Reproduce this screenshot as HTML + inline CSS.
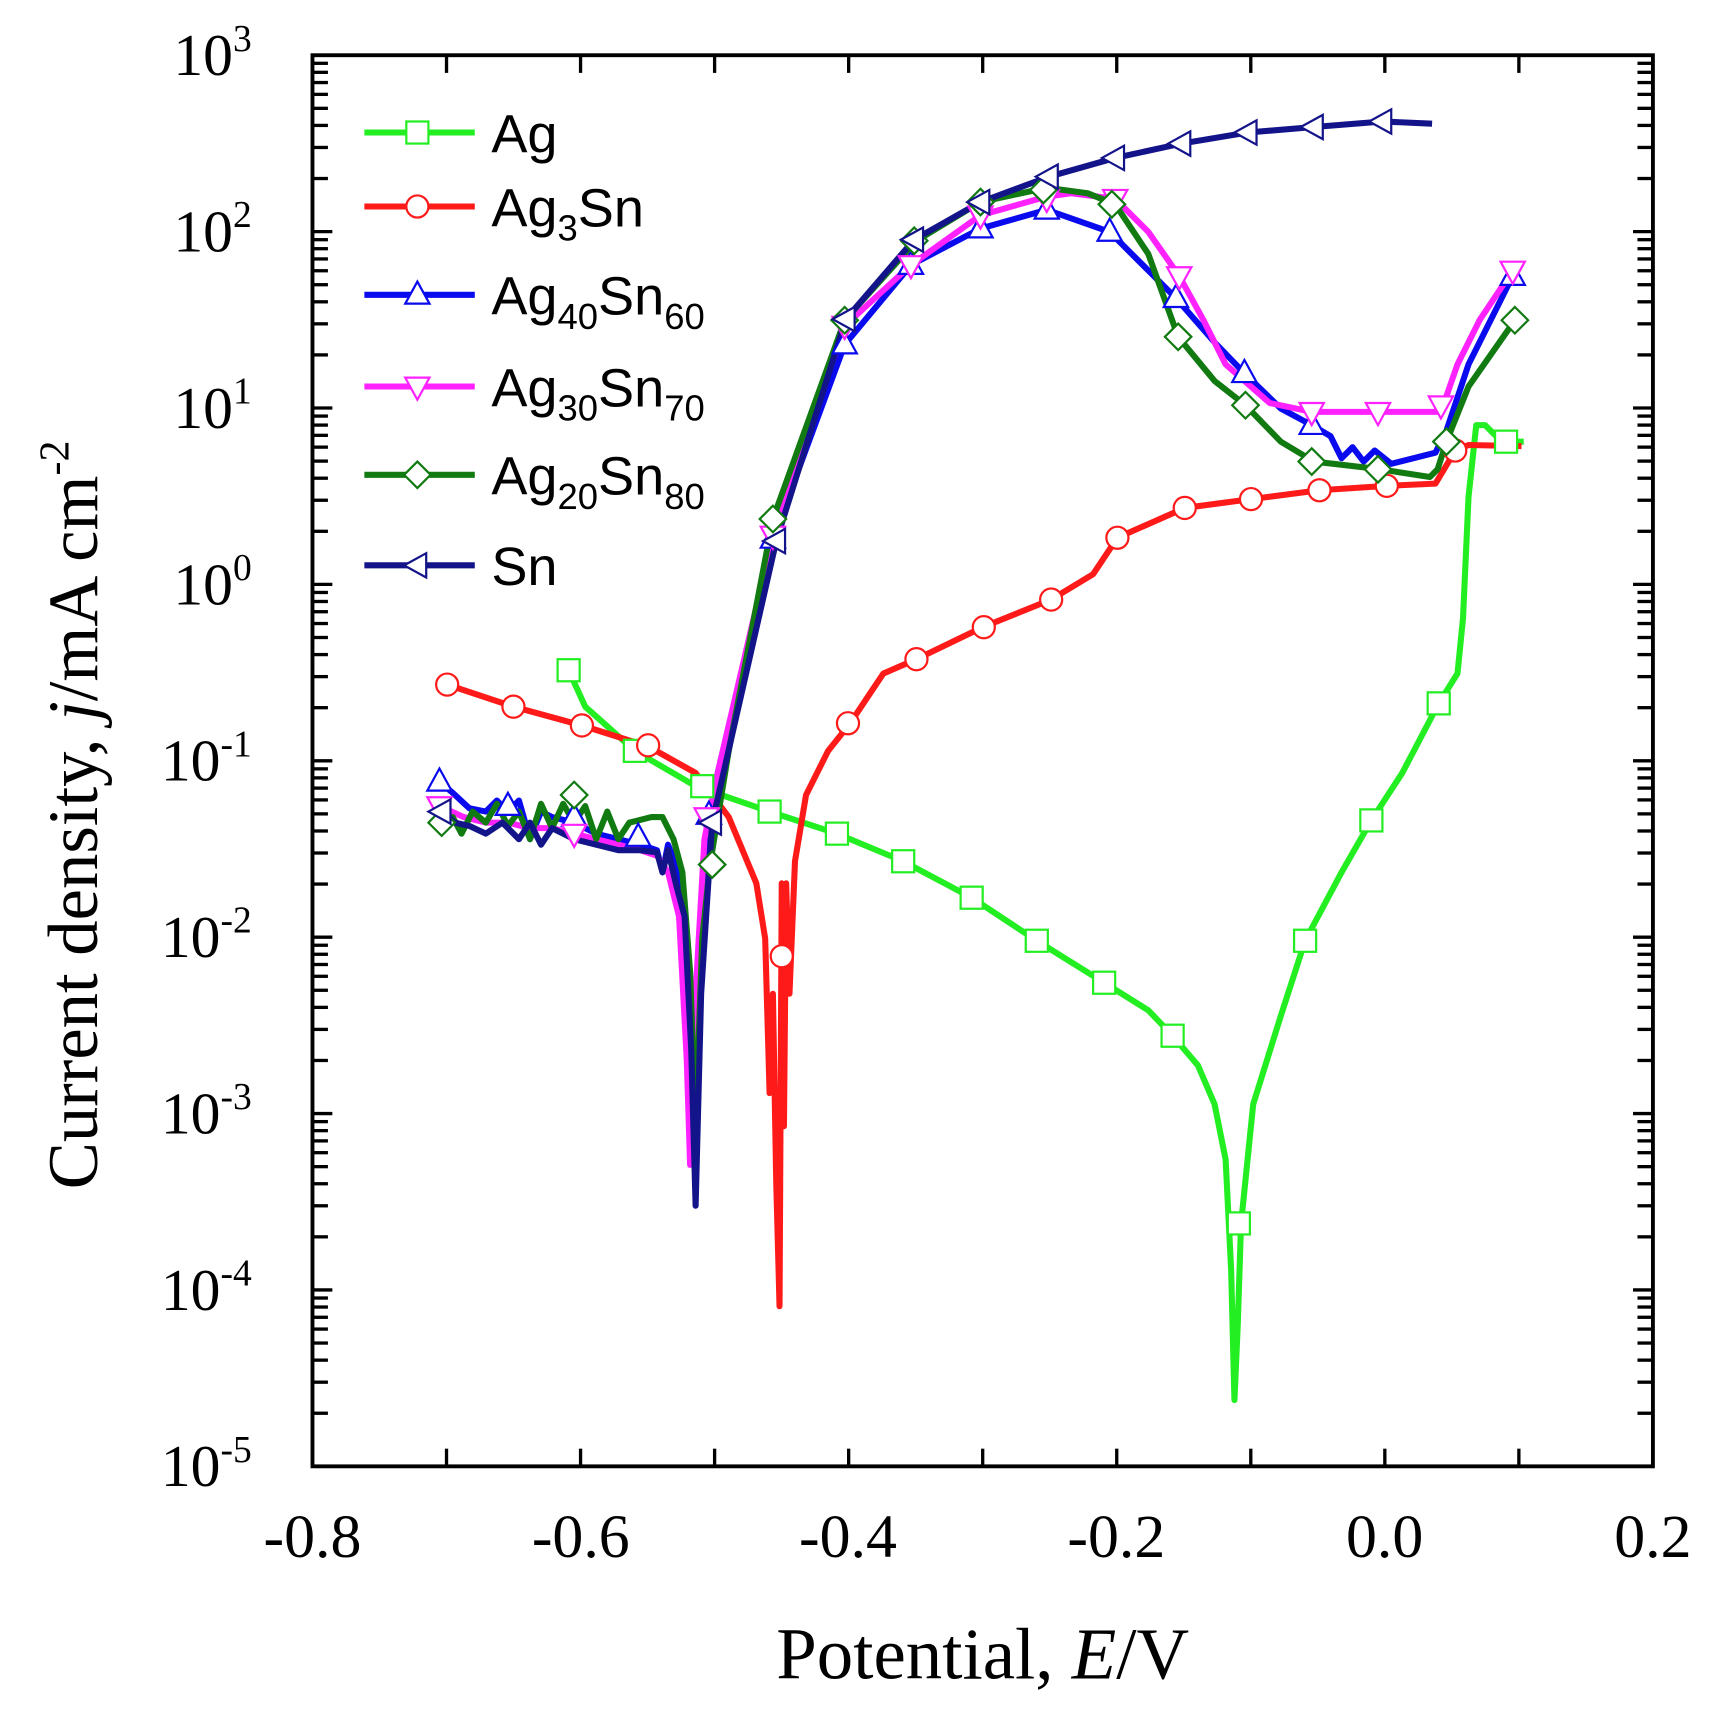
<!DOCTYPE html>
<html><head><meta charset="utf-8"><style>body{margin:0;background:#fff}svg{display:block}</style></head><body>
<svg id="s" xmlns="http://www.w3.org/2000/svg" width="1728" height="1717" viewBox="0 0 1565 1555">
<rect width="1565" height="1555" fill="#fff"/>
<g id="ticks" stroke="#000" stroke-width="3"></g>
<rect x="283" y="50" width="1214" height="1278" fill="none" stroke="#000" stroke-width="3.5"/>
<g font-family="Liberation Serif, serif" font-size="56" fill="#000" text-anchor="middle">
<text x="283" y="1410">-0.8</text><text x="526" y="1410">-0.6</text><text x="768" y="1410">-0.4</text>
<text x="1011" y="1410">-0.2</text><text x="1254" y="1410">0.0</text><text x="1497" y="1410">0.2</text>
<text x="890" y="1520" font-size="66">Potential, <tspan font-style="italic">E</tspan>/V</text>
<text transform="translate(88,738) rotate(-90)" font-size="64">Current density, <tspan font-style="italic">j</tspan>/mA cm<tspan dy="-26" font-size="38">-2</tspan></text>
</g>
<g id="ylab" font-family="Liberation Serif, serif" font-size="54" fill="#000" text-anchor="end"></g>
<g fill="none" stroke-width="5.5" stroke-linejoin="round">
<polyline stroke="#22ee22" points="515,607 530,640 575,680 630,712 697,735 758,755 818,780 880,813 939,852 1000,890 1040,915 1062,938 1085,965 1100,1000 1110,1050 1115,1150 1118,1268 1121,1200 1124,1108 1135,1000 1160,920 1182,852 1215,790 1242,743 1270,700 1303,637 1320,610 1325,560 1330,450 1337,385 1345,385 1360,400 1380,400"/>
<polyline stroke="#ff1a1a" points="405,620 465,640 527,657 587,676 630,700 660,740 685,800 693,850 697,990 700,900 703,1070 706,1183 708,800 710,1020 712,800 715,900 720,780 730,720 750,680 770,655 790,625 800,610 830,597 890,568 952,543 990,520 1012,487 1073,460 1133,452 1195,444 1256,440 1300,438 1318,408 1330,403 1378,404"/>
<polyline stroke="#0a0aee" points="398,708 410,718 425,732 440,735 450,725 460,735 470,725 480,760 490,735 500,740 520,745 540,755 560,760 580,765 595,770 600,790 605,765 615,790 622,860 628,1000 633,850 640,750 650,700 700,488 765,312 825,240 888,207 948,190 1005,210 1040,245 1065,270 1100,310 1127,338 1160,370 1188,385 1205,395 1215,415 1225,405 1235,418 1245,408 1260,420 1300,410 1310,390 1330,330 1370,250"/>
<polyline stroke="#ff22ff" points="398,730 420,740 440,745 460,745 480,750 500,750 520,755 540,760 560,765 580,770 595,775 605,790 615,830 622,960 625,1055 630,900 638,760 650,700 700,485 765,295 825,240 888,195 948,178 970,175 1010,180 1040,210 1068,250 1090,290 1110,330 1150,365 1188,373 1248,373 1305,373 1320,330 1340,290 1370,245"/>
<polyline stroke="#117a11" points="398,745 410,740 418,755 428,735 440,745 450,728 460,748 470,735 480,760 490,728 500,750 510,728 520,745 530,730 540,760 550,735 560,760 570,745 590,740 600,740 610,760 618,790 625,880 630,1020 636,850 643,783 660,680 700,470 765,290 830,218 888,183 948,170 985,175 1010,185 1040,230 1067,305 1100,345 1128,367 1160,400 1190,418 1250,425 1295,432 1302,425 1310,400 1330,350 1372,290"/>
<polyline stroke="#14148a" points="400,735 412,745 425,748 440,755 455,745 470,760 480,745 490,765 500,750 520,760 540,765 560,770 580,770 595,772 600,790 605,770 612,800 620,830 626,950 630,1092 635,900 645,745 703,490 766,289 828,217 888,183 950,160 1010,143 1070,130 1130,120 1190,115 1252,110 1297,112"/>
</g>
<g id="mk" fill="#fff" stroke-width="2"></g>
<g font-family="Liberation Sans, sans-serif" font-size="49" fill="#000">
<text x="445" y="138">Ag</text>
<text x="445" y="205">Ag<tspan font-size="33" dy="13">3</tspan><tspan dy="-13">Sn</tspan></text>
<text x="445" y="285">Ag<tspan font-size="33" dy="13">40</tspan><tspan dy="-13">Sn</tspan><tspan font-size="33" dy="13">60</tspan></text>
<text x="445" y="368">Ag<tspan font-size="33" dy="13">30</tspan><tspan dy="-13">Sn</tspan><tspan font-size="33" dy="13">70</tspan></text>
<text x="445" y="448">Ag<tspan font-size="33" dy="13">20</tspan><tspan dy="-13">Sn</tspan><tspan font-size="33" dy="13">80</tspan></text>
<text x="445" y="530">Sn</text>
</g>
<script>
var NS="http://www.w3.org/2000/svg";
function el(p,t,a,txt){var e=document.createElementNS(NS,t);for(var k in a)e.setAttribute(k,a[k]);if(txt)e.textContent=txt;p.appendChild(e);return e;}
var T=document.getElementById('ticks');
function Y(l){return 50+(3-l)*159.75;}
for(var d=-5;d<=3;d++){var y=Y(d);
 el(T,'line',{x1:283,y1:y,x2:301,y2:y});el(T,'line',{x1:1497,y1:y,x2:1479,y2:y});
 var lb=document.getElementById('ylab');var t=el(lb,'text',{x:228,y:y+18},'10');el(t,'tspan',{dy:-22,'font-size':34},String(d));
 if(d<3)for(var m=2;m<10;m++){var yy=Y(d+Math.log10(m));el(T,'line',{x1:283,y1:yy,x2:297,y2:yy});el(T,'line',{x1:1497,y1:yy,x2:1483,y2:yy});}
}
for(var i=1;i<10;i++){var x=283+i*121.4;el(T,'line',{x1:x,y1:1328,x2:x,y2:1312});el(T,'line',{x1:x,y1:50,x2:x,y2:66});}
var M=document.getElementById('mk');
function mark(type,c,x,y){var r=10;var a={stroke:c};
 if(type=='s'){a.x=x-r;a.y=y-r;a.width=2*r;a.height=2*r;el(M,'rect',a);}
 else if(type=='c'){a.cx=x;a.cy=y;a.r=r;el(M,'circle',a);}
 else{var p;if(type=='u')p=[[x,y-r-2],[x-r-1,y+r-2],[x+r+1,y+r-2]];
  if(type=='d')p=[[x,y+r+2],[x-r-1,y-r+2],[x+r+1,y-r+2]];
  if(type=='l')p=[[x-r-2,y],[x+r-2,y-r-1],[x+r-2,y+r+1]];
  if(type=='m')p=[[x,y-r-2],[x+r+2,y],[x,y+r+2],[x-r-2,y]];
  a.points=p.map(function(q){return q.join(',')}).join(' ');el(M,'polygon',a);}}
var S=[
['s','#22ee22',[[515,607],[575,680],[636,712],[697,735],[758,755],[818,780],[880,813],[939,852],[1000,890],[1062,938],[1122,1108],[1182,852],[1242,743],[1303,637],[1364,400]]],
['c','#ff1a1a',[[405,620],[465,640],[527,657],[587,675],[708,866],[768,655],[830,597],[891,568],[952,543],[1012,487],[1073,460],[1133,452],[1195,444],[1256,440],[1318,408]]],
['u','#0a0aee',[[398,708],[460,730],[520,740],[578,758],[642,738],[700,488],[765,312],[825,240],[888,207],[948,190],[1005,210],[1065,270],[1127,338],[1188,385],[1370,250]]],
['d','#ff22ff',[[398,730],[520,755],[640,740],[700,485],[765,295],[825,240],[888,195],[948,180],[1010,180],[1068,250],[1188,373],[1248,373],[1305,367],[1370,245]]],
['m','#117a11',[[400,745],[520,720],[645,783],[700,470],[765,290],[828,218],[888,183],[945,172],[1007,185],[1067,305],[1128,367],[1188,418],[1248,425],[1310,400],[1372,290]]],
['l','#14148a',[[400,735],[645,745],[703,490],[766,289],[828,217],[888,183],[950,160],[1010,143],[1070,130],[1130,120],[1190,115],[1252,110]]]];
var ly=[120,187,267,350,430,512];
S.forEach(function(s,i){s[2].forEach(function(p){mark(s[0],s[1],p[0],p[1]);});
 el(M,'line',{x1:330,y1:ly[i],x2:430,y2:ly[i],stroke:s[1],'stroke-width':5.5});mark(s[0],s[1],378,ly[i]);});
</script>
</svg>
</body></html>
